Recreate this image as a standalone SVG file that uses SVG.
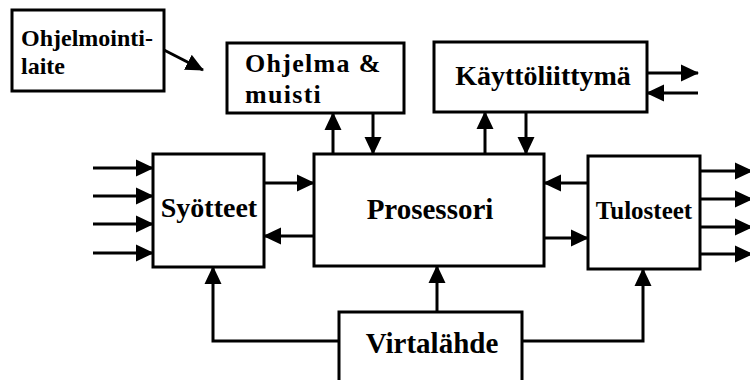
<svg xmlns="http://www.w3.org/2000/svg" width="750" height="380" viewBox="0 0 750 380">
  <style>
    .box { fill: #fff; stroke: #000; stroke-width: 3; }
    .lbl { font-family: "Liberation Serif", "Times New Roman", serif; font-weight: bold; fill: #000; }
    .wire { fill: none; stroke: #000; stroke-width: 3; }
    .arr { marker-end: url(#head); }
  </style>
  <defs>
    <marker id="head" markerUnits="userSpaceOnUse" markerWidth="18" markerHeight="18" refX="17" refY="9" orient="auto">
      <path d="M0,0.5 L18,9 L0,17.5 z" fill="#000"/>
    </marker>
  </defs>
  <rect width="750" height="380" fill="#fff"/>

  <g id="ohjelmointilaite">
    <rect class="box" x="12" y="10" width="152" height="81"/>
    <text class="lbl" x="21" y="46" font-size="24">Ohjelmointi-</text>
    <text class="lbl" x="21" y="74" font-size="24">laite</text>
  </g>

  <g id="ohjelma-muisti">
    <rect class="box" x="227" y="43" width="177" height="70"/>
    <text class="lbl" x="245" y="72" font-size="26" letter-spacing="1.3">Ohjelma &amp;</text>
    <text class="lbl" x="245" y="103" font-size="26" letter-spacing="1.3">muisti</text>
  </g>

  <g id="kayttoliittyma">
    <rect class="box" x="434" y="42" width="213" height="70"/>
    <text class="lbl" x="543" y="85" font-size="28" text-anchor="middle">Käyttöliittymä</text>
  </g>

  <g id="syotteet">
    <rect class="box" x="153" y="154" width="111" height="113"/>
    <text class="lbl" x="209" y="217" font-size="28" text-anchor="middle">Syötteet</text>
  </g>

  <g id="prosessori">
    <rect class="box" x="314" y="154" width="230" height="112"/>
    <text class="lbl" x="430" y="219" font-size="29" text-anchor="middle">Prosessori</text>
  </g>

  <g id="tulosteet">
    <rect class="box" x="588" y="156" width="112" height="113"/>
    <text class="lbl" x="644" y="219" font-size="25" text-anchor="middle">Tulosteet</text>
  </g>

  <g id="virtalahde">
    <rect class="box" x="339" y="312" width="183" height="80"/>
    <text class="lbl" x="432" y="353" font-size="29" text-anchor="middle">Virtalähde</text>
  </g>

  <g id="connectors">
    <!-- programming device to program memory -->
    <path class="wire arr" d="M164,50 L203,70"/>
    <!-- processor and program memory -->
    <path class="wire arr" d="M333,154 L333,113"/>
    <path class="wire arr" d="M373,113 L373,154"/>
    <!-- processor and user interface -->
    <path class="wire arr" d="M485,154 L485,112"/>
    <path class="wire arr" d="M526,112 L526,154"/>
    <!-- user interface external -->
    <path class="wire arr" d="M647,73 L698,73"/>
    <path class="wire arr" d="M698,93 L647,93"/>
    <!-- inputs -->
    <path class="wire arr" d="M93,168 L153,168"/>
    <path class="wire arr" d="M93,196 L153,196"/>
    <path class="wire arr" d="M93,224 L153,224"/>
    <path class="wire arr" d="M93,253 L153,253"/>
    <!-- inputs and processor -->
    <path class="wire arr" d="M264,183 L314,183"/>
    <path class="wire arr" d="M314,236 L264,236"/>
    <!-- outputs and processor -->
    <path class="wire arr" d="M588,183 L544,183"/>
    <path class="wire arr" d="M544,238 L588,238"/>
    <!-- outputs -->
    <path class="wire arr" d="M700,171 L752,171"/>
    <path class="wire arr" d="M700,199 L752,199"/>
    <path class="wire arr" d="M700,227 L752,227"/>
    <path class="wire arr" d="M700,254 L752,254"/>
    <!-- power supply -->
    <path class="wire arr" d="M339,341 L213,341 L213,267"/>
    <path class="wire arr" d="M437,312 L437,266"/>
    <path class="wire arr" d="M522,341 L643,341 L643,269"/>
  </g>
</svg>
